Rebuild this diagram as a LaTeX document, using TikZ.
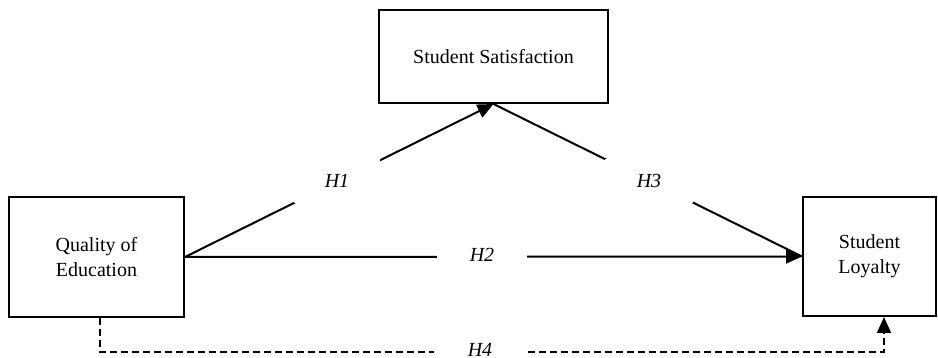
\documentclass[tikz,border=0pt]{standalone}
\usepackage{fontspec}
\setmainfont{Liberation Serif}
\usetikzlibrary{arrows.meta}
\begin{document}
\begin{tikzpicture}[x=1pt,y=-1pt,
  box/.style={draw, line width=2pt, inner sep=0pt, align=center, font=\fontsize{20}{25}\selectfont},
  conn/.style={line width=2pt},
  arr/.style={conn, -{Triangle[length=16pt,width=14pt]}},
  dconn/.style={conn, dash pattern=on 7pt off 4pt, -{Triangle[length=16pt,width=14pt]}},
  hlab/.style={fill=white, inner sep=0pt, font=\fontsize{20}{24}\selectfont\itshape}]
\useasboundingbox (0,0) rectangle (938,358);
\node[box, minimum width=229pt, minimum height=93pt] (ss) at (493.5,56.5) {Student Satisfaction};
\node[box, minimum width=175pt, minimum height=120pt] (qe) at (96.5,257) {Quality of\\Education};
\node[box, minimum width=133pt, minimum height=119pt] (sl) at (869.5,256.5) {Student\\Loyalty};
\draw[arr] (qe.east) -- (ss.south);
\draw[conn] (ss.south) -- (sl.west);
\draw[arr] (qe.east) -- (sl.west);
\coordinate (d1) at (100,352);
\coordinate (d2) at (884,352);
\draw[dconn] (qe.south -| d1) |- (d2) -- (sl.south -| d2);
\node[hlab, minimum width=86pt, minimum height=44pt] (h1) at (337,181) {H1};
\node[hlab, minimum width=90pt, minimum height=20pt] (h2) at (482,255) {H2};
\node[hlab, minimum width=88pt, minimum height=44pt] (h3) at (649,181) {H3};
\node[hlab, minimum width=93pt, minimum height=12pt] (h4) at (480,350) {H4};
\end{tikzpicture}
\end{document}
